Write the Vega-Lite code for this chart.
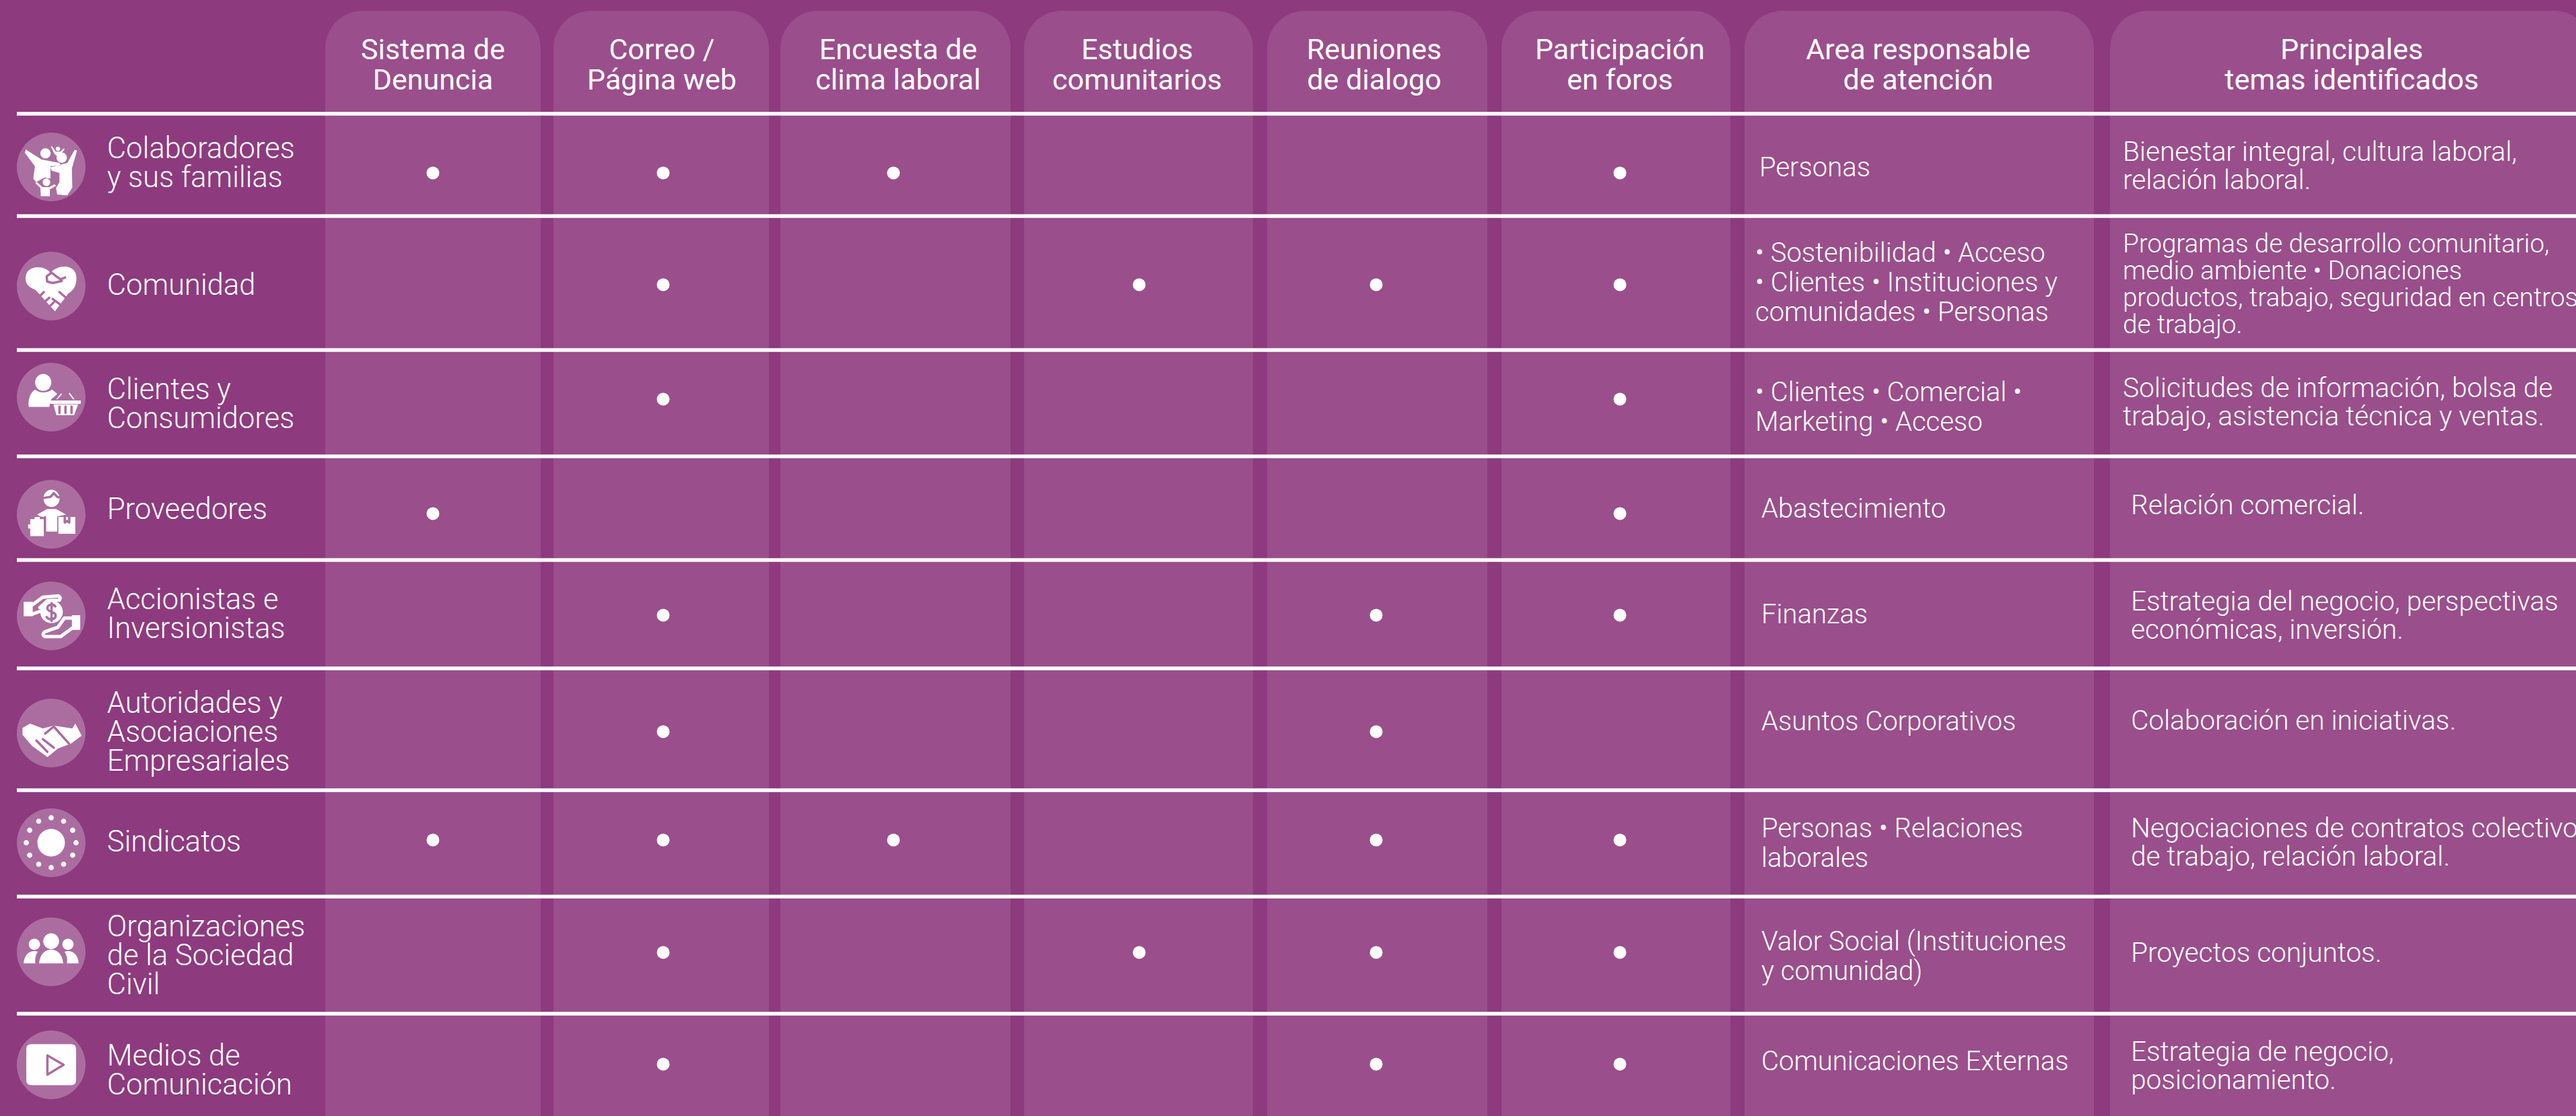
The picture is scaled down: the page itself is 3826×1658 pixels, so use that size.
{
"$schema":"https://vega.github.io/schema/vega-lite/v6.json",
"width":3826,"height":1658,"padding":0,"autosize":{"type":"none"},
"background":"#8d3a7f",
"config":{"view":{"stroke":null},"text":{"font":"Roboto","color":"#ffffff"}},
"datasets":{
"columnas":[
{"columna":"Sistema de Denuncia","inicio":1,"fin":1.9},
{"columna":"Correo / Página web","inicio":2,"fin":2.9},
{"columna":"Encuesta de clima laboral","inicio":3,"fin":3.9},
{"columna":"Estudios comunitarios","inicio":4,"fin":4.9},
{"columna":"Reuniones de dialogo","inicio":5,"fin":5.9},
{"columna":"Participación en foros","inicio":6,"fin":6.9},
{"columna":"Area responsable de atención","inicio":7,"fin":7.9},
{"columna":"Principales temas identificados","inicio":8,"fin":8.9}],
"encabezados":[
{"columna":1,"texto":"Sistema de\nDenuncia"},
{"columna":2,"texto":"Correo /\nPágina web"},
{"columna":3,"texto":"Encuesta de\nclima laboral"},
{"columna":4,"texto":"Estudios\ncomunitarios"},
{"columna":5,"texto":"Reuniones\nde dialogo"},
{"columna":6,"texto":"Participación\nen foros"},
{"columna":7,"texto":"Area responsable\nde atención"},
{"columna":8,"texto":"Principales\ntemas identificados"}],
"lineas":[{"linea":0},{"linea":1},{"linea":2},{"linea":3},{"linea":4},{"linea":5},{"linea":6},{"linea":7},{"linea":8}],
"grupos":[
{"fila":1,"columna":0,"grupo":"Colaboradores\ny sus familias"},
{"fila":2,"columna":0,"grupo":"Comunidad"},
{"fila":3,"columna":0,"grupo":"Clientes y\nConsumidores"},
{"fila":4,"columna":0,"grupo":"Proveedores"},
{"fila":5,"columna":0,"grupo":"Accionistas e\nInversionistas"},
{"fila":6,"columna":0,"grupo":"Autoridades y\nAsociaciones\nEmpresariales"},
{"fila":7,"columna":0,"grupo":"Sindicatos"},
{"fila":8,"columna":0,"grupo":"Organizaciones\nde la Sociedad\nCivil"},
{"fila":9,"columna":0,"grupo":"Medios de\nComunicación"}],
"canales":[
{"fila":1,"columna":1},{"fila":1,"columna":2},{"fila":1,"columna":3},{"fila":1,"columna":6},
{"fila":2,"columna":2},{"fila":2,"columna":4},{"fila":2,"columna":5},{"fila":2,"columna":6},
{"fila":3,"columna":2},{"fila":3,"columna":6},
{"fila":4,"columna":1},{"fila":4,"columna":6},
{"fila":5,"columna":2},{"fila":5,"columna":5},{"fila":5,"columna":6},
{"fila":6,"columna":2},{"fila":6,"columna":5},
{"fila":7,"columna":1},{"fila":7,"columna":2},{"fila":7,"columna":3},{"fila":7,"columna":5},{"fila":7,"columna":6},
{"fila":8,"columna":2},{"fila":8,"columna":4},{"fila":8,"columna":5},{"fila":8,"columna":6},
{"fila":9,"columna":2},{"fila":9,"columna":5},{"fila":9,"columna":6}],
"areas":[
{"fila":1,"columna":7.1,"texto":"Personas"},
{"fila":2,"columna":7,"texto":"• Sostenibilidad • Acceso\n• Clientes • Instituciones y\ncomunidades • Personas"},
{"fila":3,"columna":7,"texto":"• Clientes • Comercial •\nMarketing • Acceso"},
{"fila":4,"columna":7.2,"texto":"Abastecimiento"},
{"fila":5,"columna":7.2,"texto":"Finanzas"},
{"fila":6,"columna":7.2,"texto":"Asuntos Corporativos"},
{"fila":7,"columna":7.2,"texto":"Personas • Relaciones\nlaborales"},
{"fila":8,"columna":7.2,"texto":"Valor Social (Instituciones\ny comunidad)"},
{"fila":9,"columna":7.2,"texto":"Comunicaciones Externas"}],
"temas":[
{"fila":1,"columna":8,"texto":"Bienestar integral, cultura laboral,\nrelación laboral."},
{"fila":3,"columna":8,"texto":"Solicitudes de información, bolsa de\ntrabajo, asistencia técnica y ventas."},
{"fila":4,"columna":8.2,"texto":"Relación comercial."},
{"fila":5,"columna":8.2,"texto":"Estrategia del negocio, perspectivas\neconómicas, inversión."},
{"fila":6,"columna":8.2,"texto":"Colaboración en iniciativas."},
{"fila":7,"columna":8.2,"texto":"Negociaciones de contratos colectivos\nde trabajo, relación laboral."},
{"fila":8,"columna":8.2,"texto":"Proyectos conjuntos."},
{"fila":9,"columna":8.2,"texto":"Estrategia de negocio,\nposicionamiento."}],
"temas_largos":[
{"fila":2,"columna":8,"texto":"Programas de desarrollo comunitario,\nmedio ambiente  • Donaciones\nproductos, trabajo, seguridad en centros\nde trabajo."}]
},
"resolve":{"scale":{"x":"independent","y":"independent","shape":"independent"}},
"layer":[
{"data":{"name":"columnas"},
 "mark":{"type":"rect","color":"#9a4e8c","cornerRadiusTopLeft":56,"cornerRadiusTopRight":56},
 "encoding":{
  "x":{"field":"inicio","type":"quantitative","axis":null,"scale":{"domain":[1,1.9,2,2.9,3,3.9,4,4.9,5,5.9,6,6.9,7,7.9,8,8.9],"range":[483,803,822,1142,1159,1501,1521,1861,1882,2209,2230,2570,2591,3110,3134,3850]}},
  "x2":{"field":"fin"},
  "y":{"datum":0,"type":"quantitative","axis":null,"scale":{"domain":[0,1],"range":[16,1720]}},
  "y2":{"datum":1}}},
{"data":{"name":"lineas"},
 "mark":{"type":"rule","color":"#ffffff","strokeWidth":5.5},
 "encoding":{
  "x":{"datum":0,"type":"quantitative","axis":null,"scale":{"domain":[0,1],"range":[25,3826]}},
  "x2":{"datum":1},
  "y":{"field":"linea","type":"quantitative","axis":null,"scale":{"domain":[0,1,2,3,4,5,6,7,8],"range":[169,321,520,678,832,993,1174,1332,1506]}}}},
{"data":{"name":"encabezados"},
 "mark":{"type":"text","fontSize":43,"fontWeight":400,"align":"center","baseline":"middle","lineHeight":45,"lineBreak":"\n","color":"#ffffff","font":"Roboto"},
 "encoding":{
  "x":{"field":"columna","type":"quantitative","axis":null,"scale":{"domain":[1,2,3,4,5,6,7,8],"range":[643,983,1334,1689,2041,2406,2849,3493]}},
  "y":{"datum":0,"type":"quantitative","axis":null,"scale":{"domain":[0,1],"range":[75,1658]}},
  "text":{"field":"texto"}}},
{"data":{"name":"grupos"},
 "mark":{"type":"point","shape":"circle","filled":true,"opacity":1,"color":"#ab6da0","size":10404},
 "encoding":{
  "x":{"field":"columna","type":"quantitative","axis":null,"scale":{"domain":[0,1],"range":[76,643]}},
  "y":{"field":"fila","type":"quantitative","axis":null,"scale":{"domain":[1,2,3,4,5,6,7,8,9],"range":[248,425,590,764,915,1089,1252,1414,1582]}}}},
{"data":{"name":"grupos"},
 "mark":{"type":"point","filled":true,"opacity":1,"color":"#ffffff","size":12544},
 "encoding":{
  "x":{"field":"columna","type":"quantitative","axis":null,"scale":{"domain":[0,1],"range":[76,643]}},
  "y":{"field":"fila","type":"quantitative","axis":null,"scale":{"domain":[1,2,3,4,5,6,7,8,9],"range":[248,425,590,764,915,1089,1252,1414,1582]}},
  "shape":{"field":"fila","type":"nominal","legend":null,"scale":{"domain":[1,2,3,4,5,6,7,8,9],"range":[
"M-.287,-.36A.137,.137,0,1,1,-.013,-.36A.137,.137,0,1,1,-.287,-.36ZM.143,-.245A.137,.137,0,1,1,.417,-.245A.137,.137,0,1,1,.143,-.245ZM-.67,-.46L-.255,-.195L.22,-.105L.25,-.05L-.02,-.02L-.02,.31L-.165,.28L-.4,.4L-.475,.31L-.43,-.02L-.7,-.375ZM.685,-.435L.62,-.45L.43,-.105L-.02,.01L.01,.1L.22,.16L.22,.4L.13,.56L.16,.73L.43,.755L.56,.55L.55,.04ZM.12,-.48A.06,.06,0,1,1,.24,-.48A.06,.06,0,1,1,.12,-.48ZM-.005,-.535L.025,-.55L.12,-.405L.24,-.405L.34,-.495L.355,-.465L.25,-.335L.18,-.3L.13,-.3L.07,-.375ZM-.225,.405A.1,.1,0,1,1,-.025,.405A.1,.1,0,1,1,-.225,.405ZM-.42,.43L-.285,.56L-.275,.775L-.035,.775L-.035,.595L.13,.5L.09,.46L-.05,.535L-.225,.535L-.38,.4Z",
"M-.02,-.35C-.15,-.55,-.68,-.6,-.68,-.2C-.68,0,-.5,.06,-.42,.1L.1,.67L.45,.2C.6,.1,.67,0,.67,-.22C.67,-.58,.2,-.6,-.02,-.35Z",
"M-.425,-.39A.215,.225,0,1,1,.005,-.39A.215,.225,0,1,1,-.425,-.39ZM-.595,.26C-.62,.05,-.55,-.12,-.43,-.2C-.3,-.1,-.12,-.1,.03,-.2C.08,-.15,.13,-.12,.16,-.08L0,.06L-.05,.26ZM-.02,.09L.785,.09L.785,.18L-.02,.18ZM.06,.19L.715,.19L.61,.476L.14,.476ZM.13,.06L.26,-.1L.29,-.08L.17,.06ZM.46,-.1L.49,-.12L.62,.06L.58,.06Z",
"M-.205,-.42A.215,.23,0,1,1,.225,-.42A.215,.23,0,1,1,-.205,-.42ZM-.375,.01L-.11,-.14L.13,-.14L.4,.01L.16,.06L.16,.46L-.165,.46L-.165,.08L-.285,.06ZM-.555,.13L-.44,.13L-.44,.07L-.3,.07L-.3,.13L-.195,.13L-.195,.58L-.555,.58ZM.19,.07L.64,.07L.64,.52L.19,.52ZM-.61,.27L-.56,.27L-.56,.38L-.61,.38Z",
"M-.29,-.107A.3,.3,0,1,1,.31,-.107A.3,.3,0,1,1,-.29,-.107ZM-.73,-.375L-.49,-.375L-.49,.01L-.73,.01ZM.55,-.02L.77,-.02L.77,.37L.55,.37Z",
"M-.76,-.135L-.56,-.25L-.22,-.12L.07,-.195L.56,-.12L.64,-.25L.81,.07L.525,.28L.18,.41L-.1,.64L-.5,.35L-.76,.05Z",
"M-.365,0A.365,.365,0,1,1,.365,0A.365,.365,0,1,1,-.365,0ZM-.07,-.66a.07,.07,0,1,0,.14,0a.07,.07,0,1,0,-.14,0ZM.26,-.57a.07,.07,0,1,0,.14,0a.07,.07,0,1,0,-.14,0ZM.5,-.33a.07,.07,0,1,0,.14,0a.07,.07,0,1,0,-.14,0ZM.59,0a.07,.07,0,1,0,.14,0a.07,.07,0,1,0,-.14,0ZM.5,.33a.07,.07,0,1,0,.14,0a.07,.07,0,1,0,-.14,0ZM.26,.57a.07,.07,0,1,0,.14,0a.07,.07,0,1,0,-.14,0ZM-.07,.66a.07,.07,0,1,0,.14,0a.07,.07,0,1,0,-.14,0ZM-.4,.57a.07,.07,0,1,0,.14,0a.07,.07,0,1,0,-.14,0ZM-.64,.33a.07,.07,0,1,0,.14,0a.07,.07,0,1,0,-.14,0ZM-.73,0a.07,.07,0,1,0,.14,0a.07,.07,0,1,0,-.14,0ZM-.64,-.33a.07,.07,0,1,0,.14,0a.07,.07,0,1,0,-.14,0ZM-.4,-.57a.07,.07,0,1,0,.14,0a.07,.07,0,1,0,-.14,0Z",
"M-.21,-.28A.21,.21,0,1,1,.21,-.28A.21,.21,0,1,1,-.21,-.28ZM-.595,-.2A.15,.15,0,1,1,-.295,-.2A.15,.15,0,1,1,-.595,-.2ZM.295,-.2A.15,.15,0,1,1,.595,-.2A.15,.15,0,1,1,.295,-.2ZM-.32,.31C-.3,.05,-.15,-.06,0,-.06C.15,-.06,.3,.05,.32,.31ZM-.73,.31C-.72,.1,-.6,-.02,-.45,-.02C-.42,-.02,-.38,-.01,-.35,0C-.42,.08,-.43,.2,-.42,.31ZM.73,.31C.72,.1,.6,-.02,.45,-.02C.42,-.02,.38,-.01,.35,0C.42,.08,.43,.2,.42,.31Z",
"M-.53,-.55L.53,-.55Q.66,-.55,.66,-.42L.66,.41Q.66,.54,.53,.54L-.53,.54Q-.66,.54,-.66,.41L-.66,-.42Q-.66,-.55,-.53,-.55Z"
]}}}},
{"data":{"name":"grupos"},
 "mark":{"type":"point","filled":false,"opacity":1,"color":"#ffffff","strokeWidth":5,"size":12544,"strokeCap":"round","strokeJoin":"round"},
 "transform":[{"filter":"datum.fila==5"}],
 "encoding":{
  "x":{"field":"columna","type":"quantitative","axis":null,"scale":{"domain":[0,1],"range":[76,643]}},
  "y":{"field":"fila","type":"quantitative","axis":null,"scale":{"domain":[1,2,3,4,5,6,7,8,9],"range":[248,425,590,764,915,1089,1252,1414,1582]}},
  "shape":{"field":"fila","type":"nominal","legend":null,"scale":{"domain":[5],"range":[
"M-.49,-.3L-.225,-.495L.19,-.53Q.27,-.49,.22,-.42L-.1,-.4L-.3,-.22M-.49,-.05L-.3,-.12M.55,.06L.35,.06L.18,.3L-.17,.42Q-.26,.5,-.17,.55L.25,.55L.55,.33"
]}}}},
{"data":{"name":"grupos"},
 "mark":{"type":"point","filled":false,"opacity":1,"color":"#ab6da0","strokeWidth":3.5,"size":12544,"strokeCap":"round","strokeJoin":"round"},
 "transform":[{"filter":"datum.fila!=1 && datum.fila!=7 && datum.fila!=8"}],
 "encoding":{
  "x":{"field":"columna","type":"quantitative","axis":null,"scale":{"domain":[0,1],"range":[76,643]}},
  "y":{"field":"fila","type":"quantitative","axis":null,"scale":{"domain":[1,2,3,4,5,6,7,8,9],"range":[248,425,590,764,915,1089,1252,1414,1582]}},
  "shape":{"field":"fila","type":"nominal","legend":null,"scale":{"domain":[2,3,4,5,6,9],"range":[
"M-.435,.4L-.195,.16M-.285,.52L-.05,.31M-.135,.635L.07,.43M.22,.16L.43,.34M.04,.34L.28,.52M.37,-.225L.25,-.18L.16,-.24L.01,-.355L-.12,-.255L-.105,-.12L.04,-.08L.28,-.135",
"M.22,.25L.22,.42M.38,.25L.38,.42M.54,.25L.54,.42",
"M-.195,-.435L-.02,-.46L.07,-.56L.16,-.46L.22,-.45M.36,.07L.36,.22L.42,.18L.48,.22L.48,.07M-.165,.08L-.165,.46",
"M.11,-.25C.05,-.33,-.11,-.3,-.1,-.2C-.09,-.09,.13,-.12,.12,0C.11,.1,-.06,.12,-.12,.03M.01,-.34L.01,.14",
"M-.16,.015L.07,-.17L.47,.28M-.39,.2L-.1,.5M-.22,.165L.07,.39",
"M-.1,-.25L.33,0L-.1,.26Z"
]}}}},
{"data":{"name":"grupos"},
 "mark":{"type":"text","fontSize":43.5,"fontWeight":300,"align":"left","baseline":"middle","lineHeight":43,"lineBreak":"\n","color":"#ffffff","font":"Roboto"},
 "encoding":{
  "x":{"field":"columna","type":"quantitative","axis":null,"scale":{"domain":[0,1],"range":[159,643]}},
  "y":{"field":"fila","type":"quantitative","axis":null,"scale":{"domain":[1,2,3,4,5,6,7,8,9],"range":[222,425,580,758,892,1046,1252,1378,1570]}},
  "text":{"field":"grupo"}}},
{"data":{"name":"canales"},
 "mark":{"type":"point","shape":"circle","filled":true,"opacity":1,"color":"#ffffff","size":361},
 "encoding":{
  "x":{"field":"columna","type":"quantitative","axis":null,"scale":{"domain":[1,2,3,4,5,6],"range":[643,985,1327,1692,2044,2406]}},
  "y":{"field":"fila","type":"quantitative","axis":null,"scale":{"domain":[1,2,3,4,5,6,7,8,9],"range":[257,423,593,763,914,1087,1248,1415,1581]}}}},
{"data":{"name":"areas"},
 "mark":{"type":"text","fontSize":40,"fontWeight":300,"align":"left","baseline":"middle","lineHeight":44,"lineBreak":"\n","color":"#ffffff","font":"Roboto"},
 "encoding":{
  "x":{"field":"columna","type":"quantitative","axis":null,"scale":{"domain":[7,7.1,7.2],"range":[2607,2613,2616]}},
  "y":{"field":"fila","type":"quantitative","axis":null,"scale":{"domain":[1,2,3,4,5,6,7,8,9],"range":[250,377,584,757,914,1073,1232,1400,1578]}},
  "text":{"field":"texto"}}},
{"data":{"name":"temas"},
 "mark":{"type":"text","fontSize":40.5,"fontWeight":300,"align":"left","baseline":"middle","lineHeight":42,"lineBreak":"\n","color":"#ffffff","font":"Roboto"},
 "encoding":{
  "x":{"field":"columna","type":"quantitative","axis":null,"scale":{"domain":[8,8.2],"range":[3153,3165]}},
  "y":{"field":"fila","type":"quantitative","axis":null,"scale":{"domain":[1,2,3,4,5,6,7,8,9],"range":[227,363,578,752,895,1072,1232,1417,1564]}},
  "text":{"field":"texto"}}},
{"data":{"name":"temas_largos"},
 "mark":{"type":"text","fontSize":38.5,"fontWeight":300,"align":"left","baseline":"middle","lineHeight":40,"lineBreak":"\n","color":"#ffffff","font":"Roboto"},
 "encoding":{
  "x":{"field":"columna","type":"quantitative","axis":null,"scale":{"domain":[8,8.2],"range":[3153,3165]}},
  "y":{"field":"fila","type":"quantitative","axis":null,"scale":{"domain":[1,2,3],"range":[227,363,578]}},
  "text":{"field":"texto"}}}
]
}
